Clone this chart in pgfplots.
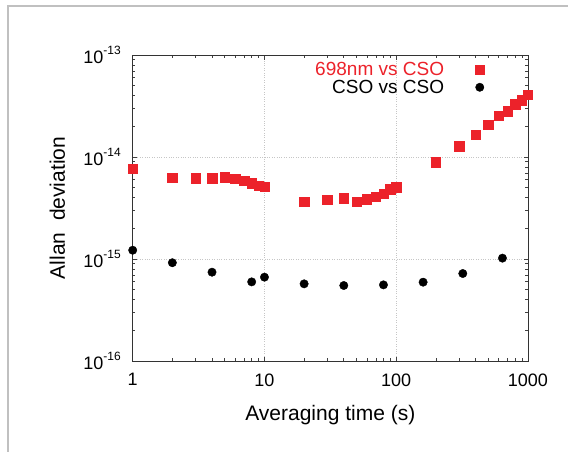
\documentclass[border=0pt]{standalone}
\usepackage{pgfplots}
\pgfplotsset{compat=1.18}
\usepackage{fontspec}
\setmainfont{Liberation Sans}
\definecolor{cso}{RGB}{236,34,42}
\definecolor{framegray}{RGB}{192,192,192}
\newcommand{\tenexp}[1]{10\raisebox{9pt}{\fontsize{12}{12}\selectfont #1}}
\begin{document}
\begin{tikzpicture}
\path[use as bounding box] (-132.7pt,-91pt) rectangle (435.3pt,361pt);
\draw[framegray, line width=1.2pt] (-124.7pt,-95pt) -- (-124.7pt,355pt) -- (440pt,355pt);
\begin{axis}[
  at={(0pt,0pt)}, anchor=south west,
  scale only axis, width=395.3pt, height=306pt,
  xmode=log, ymode=log,
  xmin=1, xmax=1000, ymin=1e-16, ymax=1e-13,
  xtick={1,10,100,1000}, xticklabels={1,10,100,1000},
  ytick={1e-16,1e-15,1e-14,1e-13},
  yticklabels={\tenexp{-16},\tenexp{-15},\tenexp{-14},\tenexp{-13}},
  minor xtick={2,3,4,5,6,7,8,9,20,30,40,50,60,70,80,90,200,300,400,500,600,700,800,900},
  minor ytick={2e-16,3e-16,4e-16,5e-16,6e-16,7e-16,8e-16,9e-16,2e-15,3e-15,4e-15,5e-15,6e-15,7e-15,8e-15,9e-15,2e-14,3e-14,4e-14,5e-14,6e-14,7e-14,8e-14,9e-14},
  tick align=inside, major tick length=4.5pt, minor tick length=2.7pt,
  every tick/.style={black!75, line width=0.6pt},
  axis line style={black!80, line width=0.9pt},
  xmajorgrids, ymajorgrids,
  major grid style={gray!45, dotted, line width=0.6pt},
  ticklabel style={font=\fontsize{18}{18}\selectfont},
  xticklabel style={anchor=north, inner sep=0pt, yshift=-12.3pt},
  yticklabel style={anchor=east, inner sep=0pt, xshift=-11.7pt},
  xlabel={Averaging time (s)},
  ylabel={Allan\ \ deviation},
  label style={font=\fontsize{21}{21}\selectfont},
  xlabel style={at={(axis description cs:0.5,-0.1951)}, anchor=base},
  ylabel style={at={(axis description cs:-0.1713,0.5)}, anchor=base},
  legend plot pos=right,
  legend cell align=right,
  legend style={draw=none, fill=none, font=\fontsize{19}{19}\selectfont,
    at={(axis description cs:0.898,0.9905)}, anchor=north east, row sep=-1pt,
    /tikz/every odd column/.append style={column sep=29pt}},
]
\addplot[only marks, mark=square*, mark size=4.7pt, color=cso, mark options={draw=cso, fill=cso}]
coordinates {
(1,7.67e-15) (2,6.3e-15) (3,6.2e-15) (4,6.2e-15) (5,6.35e-15) (6,6.1e-15) (7,5.86e-15) (8,5.55e-15) (9,5.2e-15) (10,5.15e-15)
(20,3.65e-15) (30,3.82e-15) (40,3.94e-15) (50,3.67e-15) (60,3.85e-15) (70,4.11e-15) (80,4.37e-15) (90,4.85e-15) (100,5.08e-15)
(200,8.9e-15) (300,1.28e-14) (400,1.65e-14) (500,2.08e-14) (600,2.53e-14) (700,2.81e-14) (800,3.29e-14) (900,3.6e-14) (1000,4.06e-14)
};
\addlegendentry{\textcolor{cso}{698nm vs CSO}}
\addplot[only marks, mark=*, mark size=4.2pt, color=black, mark options={draw=black, fill=black}]
coordinates {
(1,1.22e-15) (2,9.2e-16) (4,7.43e-16) (8,5.97e-16) (10,6.64e-16) (20,5.71e-16) (40,5.5e-16) (80,5.58e-16) (160,5.93e-16) (320,7.21e-16) (640,1.02e-15)
};
\addlegendentry{CSO vs CSO}
\end{axis}
\end{tikzpicture}
\end{document}
